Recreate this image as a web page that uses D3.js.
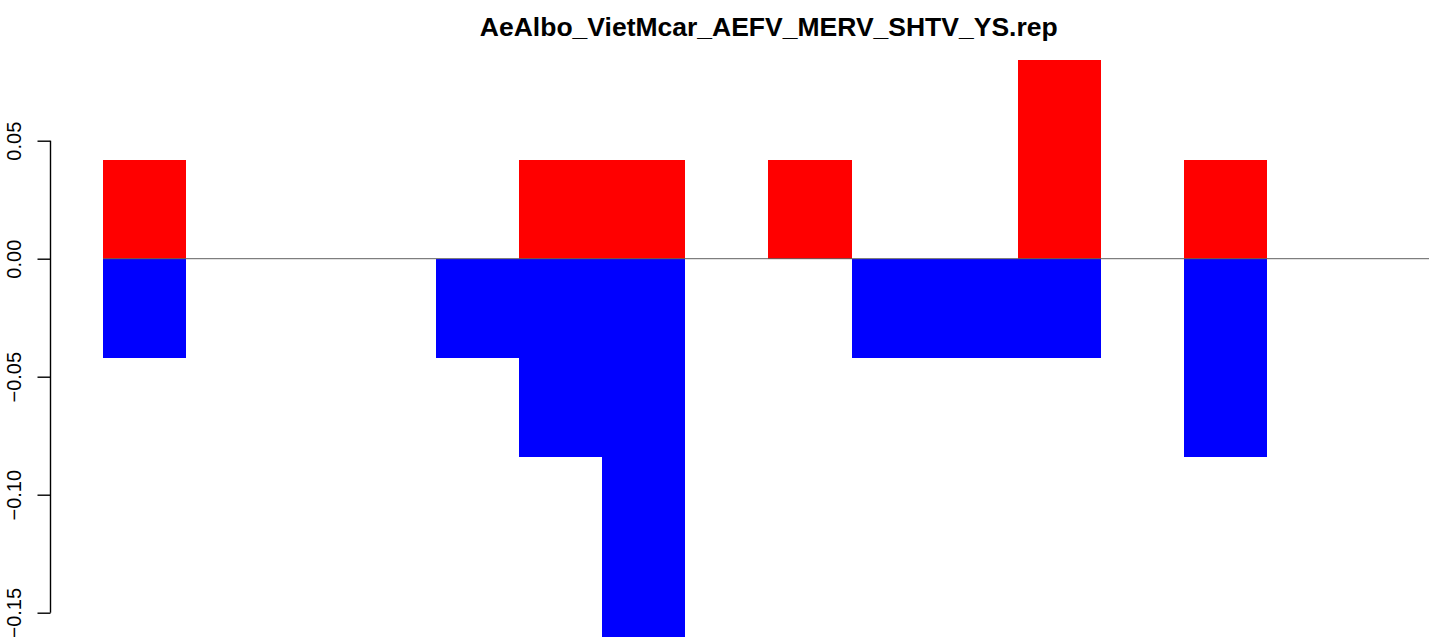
<!DOCTYPE html>
<html>
<head>
<meta charset="utf-8">
<script src="https://cdn.jsdelivr.net/npm/d3@7"></script>
<style>
  html, body { margin: 0; padding: 0; background: #fff; overflow: hidden; }
  text { font-family: "Liberation Sans", Arial, Helvetica, sans-serif; }
</style>
</head>
<body>
<svg id="chart" width="1429" height="637"></svg>
<script>
// ---- data ----
const title = "AeAlbo_VietMcar_AEFV_MERV_SHTV_YS.rep";
const categories = d3.range(16).map(i => "b" + (i + 1));
const positiveValues = [0.042, 0, 0, 0, 0, 0.042, 0.042, 0, 0.042, 0, 0, 0.084, 0, 0.042, 0, 0];
const negativeValues = [-0.042, 0, 0, 0, -0.042, -0.084, -0.167, 0, 0, -0.042, -0.042, -0.042, 0, -0.084, 0, 0];
const yTicks = [0.05, 0.00, -0.05, -0.10, -0.15];
const yTickLabels = ["0.05", "0.00", "\u22120.05", "\u22120.10", "\u22120.15"];

// ---- layout ----
const W = 1429, H = 637;
const plotLeft = 50.5, plotRight = 1487;
const n = categories.length;
const pad = 0.04 * n;

const svg = d3.select("#chart");

const x = d3.scaleLinear().domain([-pad, n + pad]).range([plotLeft - 0.7, plotRight]);
const y = d3.scaleLinear().domain([-0.15, 0.05]).range([612.7, 140.7]);

const g = svg.append("g");

// positive bars
g.selectAll("rect.pos")
  .data(positiveValues)
  .join("rect")
  .attr("class", "pos")
  .attr("x", (d, i) => x(i))
  .attr("width", (d, i) => x(i + 1) - x(i))
  .attr("y", d => y(Math.max(d, 0)))
  .attr("height", d => Math.abs(y(d) - y(0)))
  .attr("fill", "#ff0000")
  .attr("shape-rendering", "crispEdges");

// negative bars
g.selectAll("rect.neg")
  .data(negativeValues)
  .join("rect")
  .attr("class", "neg")
  .attr("x", (d, i) => x(i))
  .attr("width", (d, i) => x(i + 1) - x(i))
  .attr("y", y(0))
  .attr("height", d => Math.abs(y(d) - y(0)))
  .attr("fill", "#0000ff")
  .attr("shape-rendering", "crispEdges");

// zero line
svg.append("line")
  .attr("x1", x(0)).attr("x2", W)
  .attr("y1", y(0)).attr("y2", y(0))
  .attr("stroke", "#606060")
  .attr("stroke-width", 1);

// y axis
const axis = d3.axisLeft(y)
  .tickValues(yTicks)
  .tickSize(13)
  .tickFormat((d, i) => yTickLabels[i]);

const ag = svg.append("g")
  .attr("transform", `translate(${plotLeft},0)`)
  .call(axis);
ag.select(".domain")
  .attr("d", `M0,${y(0.05)}V${y(-0.15)}`)
  .attr("stroke", "#000")
  .attr("stroke-width", 1.4);
ag.selectAll(".tick line").attr("stroke", "#000").attr("stroke-width", 1.4);
ag.selectAll(".tick text")
  .attr("font-size", 20)
  .attr("fill", "#000")
  .attr("text-anchor", "middle")
  .attr("x", null).attr("dy", null)
  .attr("transform", "translate(-30,0) rotate(-90)")
  .attr("y", 0);

// title
svg.append("text")
  .attr("x", (plotLeft + plotRight) / 2)
  .attr("y", 36)
  .attr("text-anchor", "middle")
  .attr("font-size", 26.5)
  .attr("font-weight", "bold")
  .attr("fill", "#000")
  .text(title);
</script>
</body>
</html>
